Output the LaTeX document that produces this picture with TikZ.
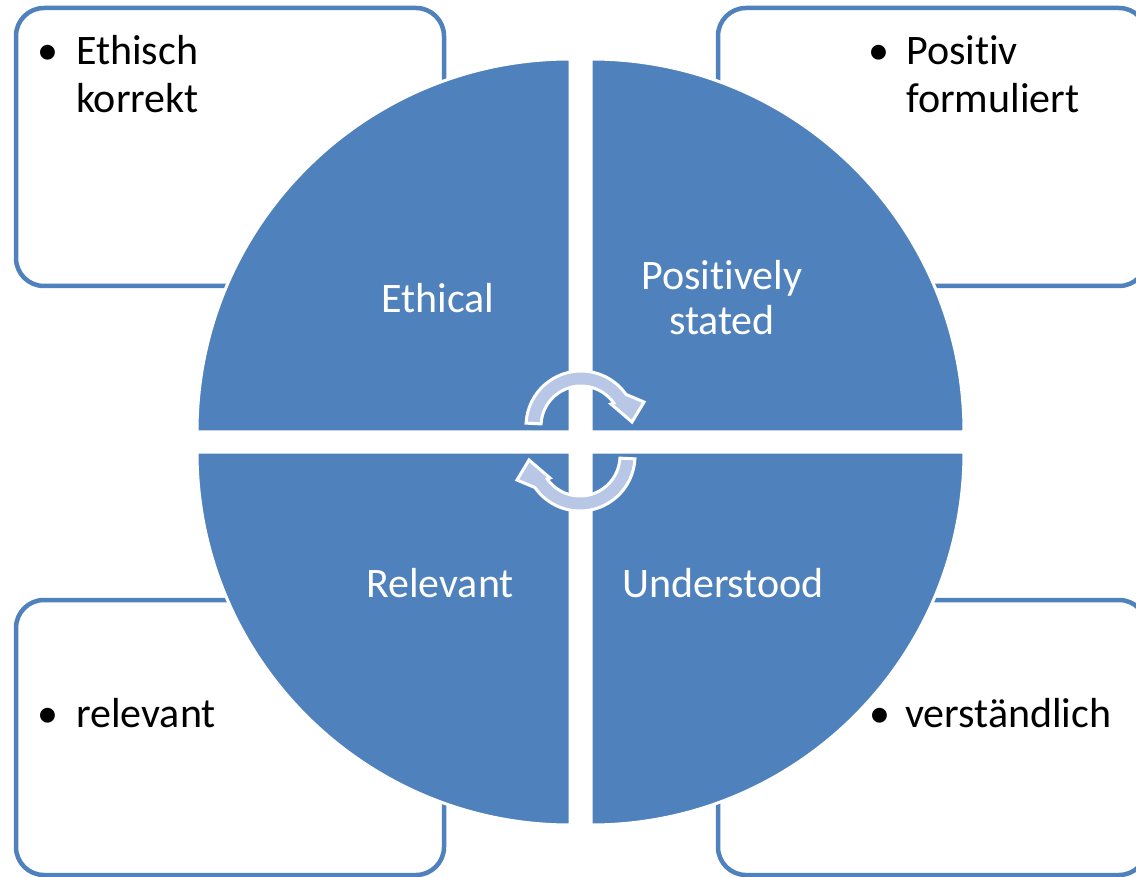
\documentclass[tikz,border=0pt]{standalone}
\usepackage{fontspec}
\setmainfont{Carlito}[Ligatures={NoCommon}]
\definecolor{qblue}{RGB}{79,129,189}
\definecolor{alight}{RGB}{183,199,229}
\begin{document}
\begin{tikzpicture}[x=1pt,y=-1pt,
  box/.style={draw=qblue,line width=4.5pt,fill=white,rounded corners=28pt},
  quad/.style={fill=qblue,draw=white,line width=3pt},
  cyc/.style={fill=alight,draw=white,line width=3pt,line join=miter},
  btxt/.style={font=\fontsize{42}{47}\selectfont,text=black,inner sep=0pt,anchor=base west},
  bul/.style={font=\fontsize{42}{47}\selectfont,text=black,inner sep=0pt,anchor=base},
  qtxt/.style={font=\fontsize{42}{47}\selectfont,text=white,inner sep=0pt,anchor=base}]
\useasboundingbox (0,0) rectangle (1136,877);
\fill[white] (0,0) rectangle (1136,877);
% boxes
\draw[box] (16,8) rectangle (444,286);
\draw[box] (718,8) rectangle (1147,286);
\draw[box] (16,600) rectangle (444,875);
\draw[box] (718,600) rectangle (1147,875);
% quadrants
\path[quad] (570,432) -- ++(-373,0) arc[start angle=180,end angle=270,radius=373] -- cycle;
\path[quad] (591,432) -- ++(0,-373) arc[start angle=270,end angle=360,radius=373] -- cycle;
\path[quad] (591,452) -- ++(373,0) arc[start angle=0,end angle=90,radius=373] -- cycle;
\path[quad] (570,452) -- ++(0,373) arc[start angle=90,end angle=180,radius=373] -- cycle;
% cycle arrows
\path[cyc] ([shift={(183:55)}]581,426) arc[start angle=183,end angle=325,radius=55]
  -- (644,402) -- (632,422) -- (611,404) -- ([shift={(325:40)}]581,426)
  arc[start angle=325,end angle=183,radius=40] -- cycle;
\begin{scope}[rotate around={180:(580.5,441)}]
\path[cyc] ([shift={(183:55)}]581,426) arc[start angle=183,end angle=325,radius=55]
  -- (644,402) -- (632,422) -- (611,404) -- ([shift={(325:40)}]581,426)
  arc[start angle=325,end angle=183,radius=40] -- cycle;
\end{scope}
% box texts
\node[bul] (b1) at (48,65) {•};
\node[btxt] (t1a) at (76,65) {Ethisch};
\node[btxt] (t1b) at (76,113) {korrekt};
\node[bul] (b2) at (879,65) {•};
\node[btxt] (t2a) at (906,65) {Positiv};
\node[btxt] (t2b) at (906,113) {formuliert};
\node[bul] (b3) at (48,727) {•};
\node[btxt] (t3) at (76,727) {relevant};
\node[bul] (b4) at (880,727) {•};
\node[btxt] (t4) at (905,727) {verständlich};
% quadrant labels
\node[qtxt] (q1) at (438,313) {Ethical};
\node[qtxt] (q2a) at (722,290) {Positively};
\node[qtxt] (q2b) at (722,335) {stated};
\node[qtxt] (q3) at (440,597) {Relevant};
\node[qtxt] (q4) at (723,597) {Understood};
\end{tikzpicture}
\end{document}
